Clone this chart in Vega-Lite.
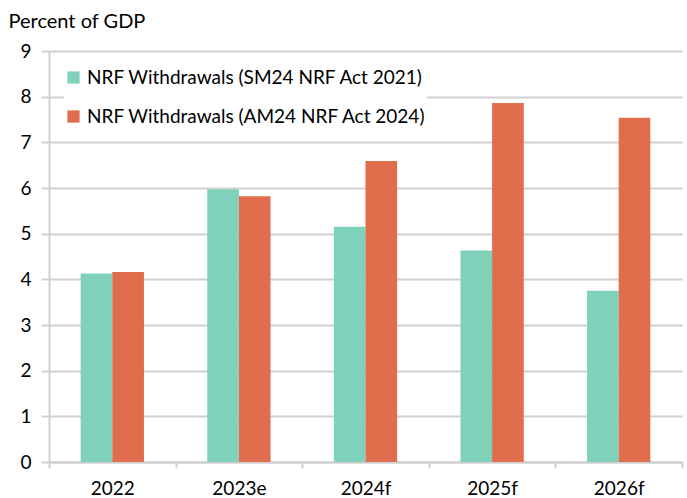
{
  "$schema": "https://vega.github.io/schema/vega-lite/v6.json",
  "width": 633,
  "height": 411,
  "autosize": {"type": "none"},
  "padding": {"left": 49, "top": 51, "right": 5, "bottom": 36},
  "background": "white",
  "config": {
    "view": {"stroke": null},
    "font": "Lato",
    "axis": {"labelFont": "Lato", "titleFont": "Lato", "labelColor": "#000000", "titleColor": "#000000"},
    "legend": {"labelFont": "Lato", "labelColor": "#000000"}
  },
  "data": {
    "values": [
      {"year": "2022", "series": "NRF Withdrawals (SM24 NRF Act 2021)", "value": 4.13},
      {"year": "2022", "series": "NRF Withdrawals (AM24 NRF Act 2024)", "value": 4.16},
      {"year": "2023e", "series": "NRF Withdrawals (SM24 NRF Act 2021)", "value": 5.97},
      {"year": "2023e", "series": "NRF Withdrawals (AM24 NRF Act 2024)", "value": 5.82},
      {"year": "2024f", "series": "NRF Withdrawals (SM24 NRF Act 2021)", "value": 5.15},
      {"year": "2024f", "series": "NRF Withdrawals (AM24 NRF Act 2024)", "value": 6.59},
      {"year": "2025f", "series": "NRF Withdrawals (SM24 NRF Act 2021)", "value": 4.63},
      {"year": "2025f", "series": "NRF Withdrawals (AM24 NRF Act 2024)", "value": 7.86},
      {"year": "2026f", "series": "NRF Withdrawals (SM24 NRF Act 2021)", "value": 3.75},
      {"year": "2026f", "series": "NRF Withdrawals (AM24 NRF Act 2024)", "value": 7.54}
    ]
  },
  "mark": {"type": "bar"},
  "encoding": {
    "x": {
      "field": "year",
      "type": "nominal",
      "sort": null,
      "scale": {"paddingInner": 0, "paddingOuter": 0},
      "axis": {
        "title": null,
        "labelAngle": 0,
        "labelFontSize": 19,
        "labelPadding": 11,
        "tickBand": "extent",
        "tickSize": 6,
        "tickColor": "#d0d0d0",
        "tickWidth": 2,
        "domainColor": "#d0d0d0",
        "domainWidth": 2,
        "grid": false
      }
    },
    "xOffset": {
      "field": "series",
      "type": "nominal",
      "sort": ["NRF Withdrawals (SM24 NRF Act 2021)", "NRF Withdrawals (AM24 NRF Act 2024)"],
      "scale": {"paddingInner": 0, "paddingOuter": 1.075}
    },
    "y": {
      "field": "value",
      "type": "quantitative",
      "scale": {"domain": [0, 9], "nice": false},
      "axis": {
        "title": "Percent of GDP",
        "titleAngle": 0,
        "titleAlign": "left",
        "titleBaseline": "alphabetic",
        "titleFontSize": 20,
        "titleFontWeight": "normal",
        "titleX": -41,
        "titleY": -24,
        "values": [0, 1, 2, 3, 4, 5, 6, 7, 8, 9],
        "labelFontSize": 19,
        "labelPadding": 10,
        "tickSize": 8,
        "tickColor": "#d0d0d0",
        "tickWidth": 2,
        "domainColor": "#d0d0d0",
        "domainWidth": 2,
        "grid": true,
        "gridColor": "#d0d0d0",
        "gridWidth": 2
      }
    },
    "color": {
      "field": "series",
      "type": "nominal",
      "sort": ["NRF Withdrawals (SM24 NRF Act 2021)", "NRF Withdrawals (AM24 NRF Act 2024)"],
      "scale": {"range": ["#80d1bb", "#e06d4b"]},
      "legend": {
        "title": null,
        "orient": "none",
        "legendX": 15,
        "legendY": 17,
        "symbolType": "square",
        "symbolSize": 150,
        "symbolStrokeWidth": 0,
        "labelFontSize": 19,
        "labelOffset": 4,
        "rowPadding": 19,
        "labelLimit": 500,
        "fillColor": "white",
        "padding": 0
      }
    }
  }
}
